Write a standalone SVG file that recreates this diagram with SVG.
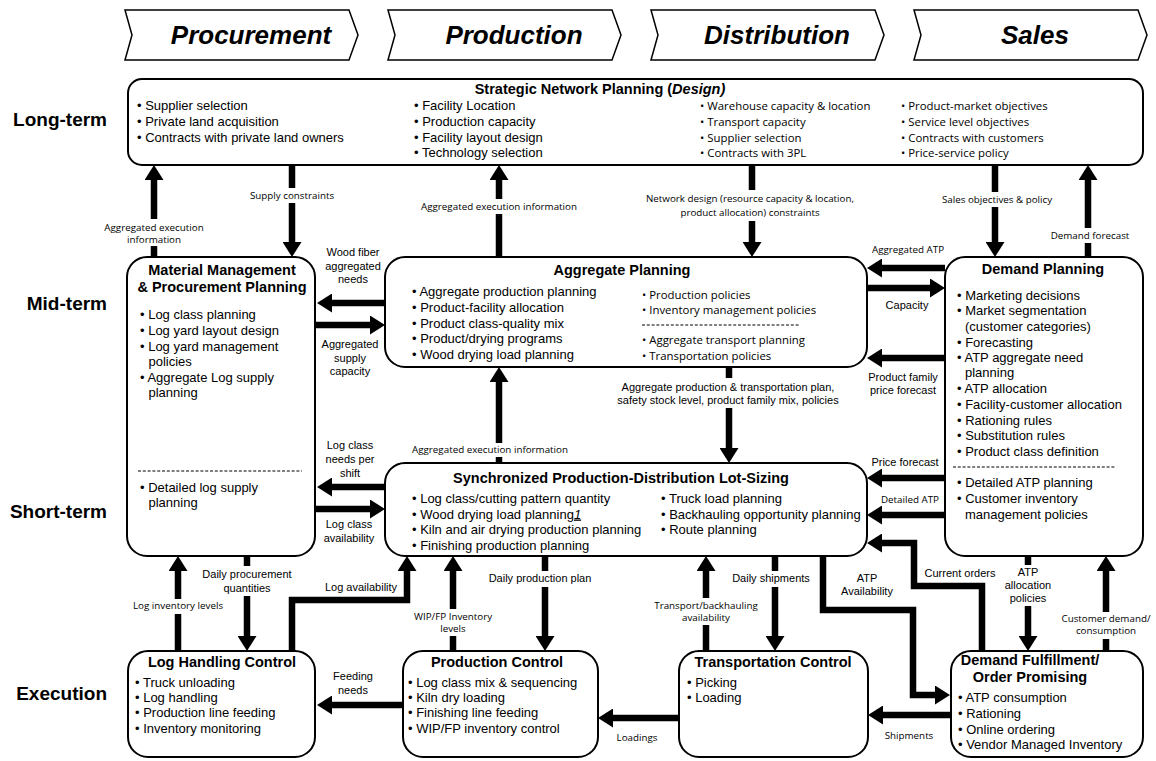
<svg xmlns="http://www.w3.org/2000/svg" width="1156" height="761" viewBox="0 0 1156 761">
<style>
.box{fill:#fff;stroke:#000;stroke-width:2}
.chev{fill:#fff;stroke:#000;stroke-width:1.5}
.ct{font-family:"Liberation Sans",Arial,sans-serif;font-weight:bold;font-style:italic;font-size:26px;text-anchor:middle}
.row{font-family:"Liberation Sans",Arial,sans-serif;font-weight:bold;font-size:19px;text-anchor:end}
.h{font-family:"Liberation Sans",Arial,sans-serif;font-weight:bold;font-size:14.5px;text-anchor:middle}
.t{font-family:"Liberation Sans",Arial,sans-serif;font-size:13px}
.c{font-family:"Open Sans",sans-serif;font-size:11.4px}
.la{font-family:"Liberation Sans",Arial,sans-serif;font-size:11px;text-anchor:middle}
.lc{font-family:"Open Sans",sans-serif;font-size:9.8px;text-anchor:middle}
.ar{fill:none;stroke:#000;stroke-width:6.5;stroke-linejoin:miter;marker-end:url(#ah)}
.bg{fill:#fff}
.dash{stroke:#000;stroke-width:1;stroke-dasharray:3 1.8}
</style>
<defs>
<marker id="ah" markerUnits="userSpaceOnUse" markerWidth="15" markerHeight="19" refX="3" refY="9.5" orient="auto"><path d="M0,0L15,9.5L0,19z"/></marker>
</defs>

<g id="headers">
<polygon class="chev" points="125,10 349,10 358,35 349,60 125,60 132,35"/>
<text class="ct" x="251" y="44">Procurement</text>
<polygon class="chev" points="388,10 612,10 621,35 612,60 388,60 395,35"/>
<text class="ct" x="514" y="44">Production</text>
<polygon class="chev" points="651,10 875,10 884,35 875,60 651,60 658,35"/>
<text class="ct" x="777" y="44">Distribution</text>
<polygon class="chev" points="914,10 1138,10 1147,35 1138,60 914,60 921,35"/>
<text class="ct" x="1035" y="44">Sales</text>
</g>

<g id="row-labels">
<text class="row" x="107" y="126">Long-term</text>
<text class="row" x="107" y="310">Mid-term</text>
<text class="row" x="107" y="518">Short-term</text>
<text class="row" x="107" y="700">Execution</text>
</g>

<g id="strategic">
<rect class="box" x="128" y="79" width="1015" height="86" rx="14"/>
<text class="h" x="600" y="94">Strategic Network Planning (<tspan font-style="italic">Design)</tspan></text>
<text class="t" x="137" y="109.5">• Supplier selection</text>
<text class="t" x="137" y="125.5">• Private land acquisition</text>
<text class="t" x="137" y="141.5">• Contracts with private land owners</text>
<text class="t" x="414" y="109.5">• Facility Location</text>
<text class="t" x="414" y="125.5">• Production capacity</text>
<text class="t" x="414" y="141.5">• Facility layout design</text>
<text class="t" x="414" y="157">• Technology selection</text>
<text class="c" x="700" y="109.5">• Warehouse capacity &amp; location</text>
<text class="c" x="700" y="125.5">• Transport capacity</text>
<text class="c" x="700" y="141.5">• Supplier selection</text>
<text class="c" x="700" y="157">• Contracts with 3PL</text>
<text class="c" x="901" y="109.5">• Product-market objectives</text>
<text class="c" x="901" y="125.5">• Service level objectives</text>
<text class="c" x="901" y="141.5">• Contracts with customers</text>
<text class="c" x="901" y="157">• Price-service policy</text>
</g>

<g id="material-management">
<rect class="box" x="127" y="257" width="188" height="299" rx="20"/>
<text class="h" x="222" y="275">Material Management</text>
<text class="h" x="222" y="292">&amp; Procurement  Planning</text>
<text class="t" x="140" y="318.5">• Log class planning</text>
<text class="t" x="140" y="334.5">• Log yard layout design</text>
<text class="t" x="140" y="350.5">• Log yard management</text>
<text class="t" x="148.5" y="365.5">policies</text>
<text class="t" x="140" y="381.5">• Aggregate Log supply</text>
<text class="t" x="148.5" y="396.5">planning</text>
<line class="dash" x1="138" y1="471" x2="302" y2="471"/>
<text class="t" x="140" y="491.5">• Detailed log supply</text>
<text class="t" x="148.5" y="506.5">planning</text>
</g>

<g id="aggregate-planning">
<rect class="box" x="385" y="257" width="482" height="110" rx="20"/>
<text class="h" x="622" y="275">Aggregate  Planning</text>
<text class="t" x="412" y="295.5">• Aggregate production planning</text>
<text class="t" x="412" y="311.5">• Product-facility allocation</text>
<text class="t" x="412" y="327.5">• Product class-quality mix</text>
<text class="t" x="412" y="342.5">• Product/drying programs</text>
<text class="t" x="412" y="358.5">• Wood drying load planning</text>
<text class="c" x="642" y="299">• Production policies</text>
<text class="c" x="642" y="314">• Inventory management policies</text>
<line class="dash" x1="642" y1="325" x2="800" y2="325"/>
<text class="c" x="642" y="344">• Aggregate transport planning</text>
<text class="c" x="642" y="360">• Transportation policies</text>
</g>

<g id="demand-planning">
<rect class="box" x="945" y="257" width="198" height="299" rx="20"/>
<text class="h" x="1043" y="274">Demand  Planning</text>
<text class="t" x="957" y="299.5">• Marketing decisions</text>
<text class="t" x="957" y="314.5">• Market segmentation</text>
<text class="t" x="965" y="330.5">(customer categories)</text>
<text class="t" x="957" y="346.5">• Forecasting</text>
<text class="t" x="957" y="361.5">• ATP aggregate need</text>
<text class="t" x="965" y="376.5">planning</text>
<text class="t" x="957" y="392.5">• ATP allocation</text>
<text class="t" x="957" y="408.5">• Facility-customer allocation</text>
<text class="t" x="957" y="424.5">• Rationing rules</text>
<text class="t" x="957" y="439.5">• Substitution rules</text>
<text class="t" x="957" y="455.5">• Product class definition</text>
<line class="dash" x1="953" y1="467" x2="1116" y2="467"/>
<text class="t" x="957" y="486.5">• Detailed ATP planning</text>
<text class="t" x="957" y="502.5">• Customer inventory</text>
<text class="t" x="965" y="518.5">management policies</text>
</g>

<g id="lot-sizing">
<rect class="box" x="385" y="463" width="482" height="93" rx="20"/>
<text class="h" x="621" y="483">Synchronized Production-Distribution Lot-Sizing</text>
<text class="t" x="412" y="502.5">• Log class/cutting pattern quantity</text>
<text class="t" x="412" y="518.5">• Wood drying load planning<tspan font-style="italic" text-decoration="underline">1</tspan></text>
<text class="t" x="412" y="533.5">• Kiln and air drying production planning</text>
<text class="t" x="412" y="550">• Finishing production planning</text>
<text class="t" x="661" y="502.5">• Truck load planning</text>
<text class="t" x="661" y="518.5">• Backhauling opportunity planning</text>
<text class="t" x="661" y="533.5">• Route planning</text>
</g>

<g id="log-handling">
<rect class="box" x="128" y="651" width="187" height="106" rx="20"/>
<text class="h" x="222" y="667">Log Handling Control</text>
<text class="t" x="135" y="686.5">• Truck unloading</text>
<text class="t" x="135" y="701.5">• Log handling</text>
<text class="t" x="135" y="717">• Production line feeding</text>
<text class="t" x="135" y="732.5">• Inventory monitoring</text>
</g>

<g id="production-control">
<rect class="box" x="403" y="651" width="195" height="106" rx="20"/>
<text class="h" x="497" y="667">Production  Control</text>
<text class="t" x="408" y="686.5">• Log class mix &amp; sequencing</text>
<text class="t" x="408" y="701.5">• Kiln dry loading</text>
<text class="t" x="408" y="717">• Finishing line feeding</text>
<text class="t" x="408" y="732.5">• WIP/FP inventory control</text>
</g>

<g id="transportation-control">
<rect class="box" x="679" y="651" width="189" height="106" rx="20"/>
<text class="h" x="773" y="667">Transportation  Control</text>
<text class="t" x="687" y="686.5">• Picking</text>
<text class="t" x="687" y="701.5">• Loading</text>
</g>

<g id="demand-fulfillment">
<rect class="box" x="951" y="651" width="192" height="106" rx="20"/>
<text class="h" x="1030" y="665">Demand Fulfillment/</text>
<text class="h" x="1030" y="682">Order Promising</text>
<text class="t" x="958" y="701.5">• ATP consumption</text>
<text class="t" x="958" y="717.5">• Rationing</text>
<text class="t" x="958" y="733.5">• Online ordering</text>
<text class="t" x="958" y="748.5">• Vendor Managed Inventory</text>
</g>

<g id="connectors">
<!-- long-term / mid-term -->
<path class="ar" d="M154,257V177"/>
<path class="ar" d="M292,165V245"/>
<path class="ar" d="M499,257V177"/>
<path class="ar" d="M752,165V245"/>
<path class="ar" d="M995,165V245"/>
<path class="ar" d="M1088,257V177"/>
<path class="ar" d="M385,303H329"/>
<path class="ar" d="M315,325H373"/>
<path class="ar" d="M945,268H879"/>
<path class="ar" d="M867,288H933"/>
<path class="ar" d="M945,358H879"/>
<!-- mid / short -->
<path class="ar" d="M729,367V451"/>
<path class="ar" d="M499,463V379"/>
<path class="ar" d="M385,487H329"/>
<path class="ar" d="M315,509H373"/>
<path class="ar" d="M945,478H879"/>
<path class="ar" d="M945,515H879"/>
<path class="ar" d="M982,651V586H914V543H879"/>
<!-- short / execution -->
<path class="ar" d="M823,556V610H913V695H938"/>
<path class="ar" d="M775,556V639"/>
<path class="ar" d="M706,651V568"/>
<path class="ar" d="M545,556V639"/>
<path class="ar" d="M453,651V568"/>
<path class="ar" d="M292,651V600H407V568"/>
<path class="ar" d="M178,651V568"/>
<path class="ar" d="M247,556V639"/>
<path class="ar" d="M1028,556V639"/>
<path class="ar" d="M1106,651V568"/>
<!-- execution -->
<path class="ar" d="M403,705H329"/>
<path class="ar" d="M679,718H610"/>
<path class="ar" d="M951,715H880"/>

<!-- labels -->
<rect class="bg" x="103" y="219" width="102" height="27"/>
<text class="lc" x="154" y="230.5">Aggregated execution</text>
<text class="lc" x="154" y="242.5">information</text>
<rect class="bg" x="248" y="188" width="88" height="15"/>
<text class="lc" x="292" y="198.5">Supply constraints</text>
<rect class="bg" x="420" y="199" width="158" height="15"/>
<text class="lc" x="499" y="209.5">Aggregated execution information</text>
<rect class="bg" x="640" y="190" width="222" height="31"/>
<text class="lc" x="750" y="201.5">Network design (resource capacity &amp; location,</text>
<text class="lc" x="750" y="216">product allocation) constraints</text>
<rect class="bg" x="938" y="192" width="116" height="15"/>
<text class="lc" x="997" y="202.5">Sales objectives &amp; policy</text>
<rect class="bg" x="1050" y="228" width="80" height="15"/>
<text class="lc" x="1090" y="238.5">Demand forecast</text>
<text class="la" x="353" y="256">Wood fiber</text>
<text class="la" x="353" y="270">aggregated</text>
<text class="la" x="353" y="283">needs</text>
<text class="la" x="350" y="348">Aggregated</text>
<text class="la" x="350" y="362">supply</text>
<text class="la" x="350" y="375">capacity</text>
<text class="lc" x="908" y="252.5">Aggregated ATP</text>
<text class="la" x="907" y="309">Capacity</text>
<text class="la" x="903" y="381">Product family</text>
<text class="la" x="903" y="394">price forecast</text>
<rect class="bg" x="598" y="378" width="262" height="30"/>
<text class="la" x="728" y="391">Aggregate production &amp; transportation plan,</text>
<text class="la" x="728" y="404">safety  stock level, product family mix, policies</text>
<rect class="bg" x="413" y="443" width="155" height="14"/>
<text class="lc" x="490" y="452.5">Aggregated execution information</text>
<text class="la" x="350" y="449">Log class</text>
<text class="la" x="350" y="463">needs per</text>
<text class="la" x="350" y="477">shift</text>
<text class="la" x="349" y="528">Log class</text>
<text class="la" x="349" y="542">availability</text>
<text class="la" x="905" y="466">Price forecast</text>
<text class="lc" x="910" y="502.5">Detailed ATP</text>
<text class="la" x="960" y="577">Current orders</text>
<text class="la" x="867" y="582">ATP</text>
<text class="la" x="867" y="595">Availability</text>
<rect class="bg" x="728" y="571" width="88" height="16"/>
<text class="la" x="771" y="582">Daily shipments</text>
<rect class="bg" x="650" y="598" width="112" height="27"/>
<text class="lc" x="706" y="608.5">Transport/backhauling</text>
<text class="lc" x="706" y="620.5">availability</text>
<rect class="bg" x="482" y="571" width="116" height="16"/>
<text class="la" x="540" y="582">Daily production plan</text>
<rect class="bg" x="410" y="609" width="86" height="27"/>
<text class="lc" x="453" y="619.5">WIP/FP Inventory</text>
<text class="lc" x="453" y="632">levels</text>
<text class="la" x="361" y="591">Log availability</text>
<rect class="bg" x="130" y="599" width="96" height="15"/>
<text class="lc" x="178" y="608.5">Log inventory levels</text>
<rect class="bg" x="195" y="566" width="105" height="30"/>
<text class="la" x="247" y="578">Daily procurement</text>
<text class="la" x="247" y="592">quantities</text>
<rect class="bg" x="1000" y="565" width="56" height="41"/>
<text class="la" x="1028" y="576">ATP</text>
<text class="la" x="1028" y="589">allocation</text>
<text class="la" x="1028" y="602">policies</text>
<rect class="bg" x="1062" y="612" width="90" height="27"/>
<text class="lc" x="1106" y="622">Customer demand/</text>
<text class="lc" x="1106" y="634">consumption</text>
<text class="la" x="353" y="680">Feeding</text>
<text class="la" x="353" y="694">needs</text>
<text class="lc" x="637" y="740.5">Loadings</text>
<text class="lc" x="909" y="738.5">Shipments</text>
</g>
</svg>
